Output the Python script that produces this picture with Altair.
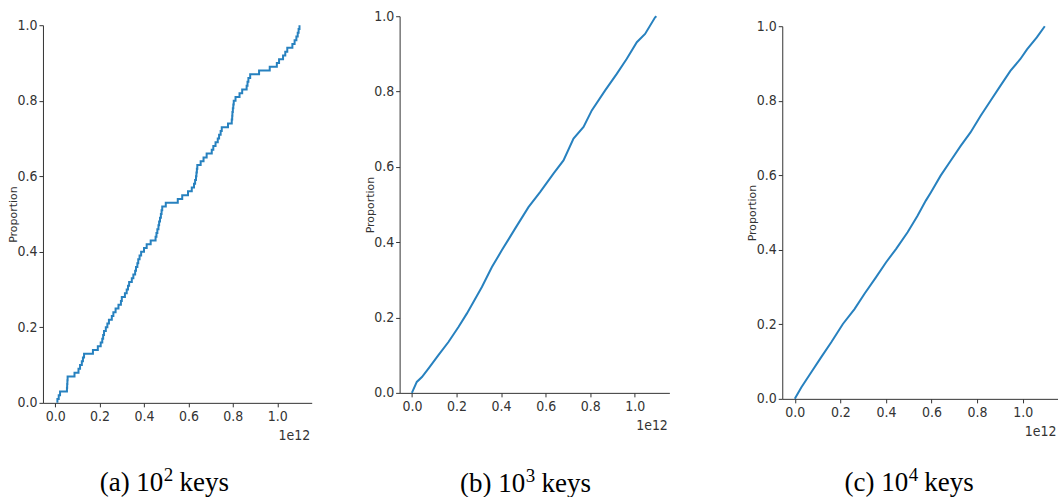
import altair as alt
import pandas as pd

# ---------------- data (x in units of 1e12) ----------------
keys_a = [0.010, 0.016, 0.022, 0.053, 0.054, 0.055, 0.056, 0.087, 0.105, 0.112,
          0.120, 0.125, 0.130, 0.170, 0.192, 0.205, 0.212, 0.216, 0.220, 0.228,
          0.235, 0.242, 0.255, 0.262, 0.272, 0.285, 0.296, 0.300, 0.314, 0.322,
          0.328, 0.333, 0.345, 0.352, 0.360, 0.364, 0.370, 0.374, 0.380, 0.387,
          0.400, 0.412, 0.430, 0.452, 0.456, 0.460, 0.465, 0.468, 0.472, 0.476,
          0.479, 0.482, 0.498, 0.552, 0.572, 0.598, 0.615, 0.625, 0.630, 0.634,
          0.636, 0.638, 0.640, 0.655, 0.668, 0.682, 0.705, 0.712, 0.722, 0.732,
          0.738, 0.745, 0.750, 0.778, 0.795, 0.797, 0.798, 0.800, 0.802, 0.804,
          0.812, 0.830, 0.842, 0.862, 0.866, 0.870, 0.878, 0.918, 0.966, 0.998,
          1.008, 1.026, 1.036, 1.045, 1.068, 1.078, 1.086, 1.092, 1.096, 1.100]

b_x = [0.0, 0.022, 0.045, 0.075, 0.119, 0.164, 0.209, 0.247, 0.314, 0.359, 0.404,
       0.463, 0.523, 0.575, 0.635, 0.680, 0.725, 0.770, 0.807, 0.867, 0.919, 0.964,
       1.009, 1.046, 1.091, 1.097]
b_y = [0.0, 0.029, 0.042, 0.065, 0.100, 0.135, 0.175, 0.211, 0.281, 0.334, 0.379,
       0.436, 0.493, 0.533, 0.582, 0.617, 0.675, 0.706, 0.750, 0.803, 0.847, 0.887,
       0.931, 0.953, 0.997, 1.000]

c_x = [0.0, 0.029, 0.073, 0.116, 0.160, 0.211, 0.262, 0.306, 0.356, 0.400, 0.444,
       0.495, 0.538, 0.575, 0.597, 0.640, 0.684, 0.728, 0.771, 0.815, 0.859, 0.902,
       0.946, 0.990, 1.019, 1.062, 1.097]
c_y = [0.0, 0.031, 0.072, 0.112, 0.152, 0.201, 0.241, 0.282, 0.326, 0.366, 0.402,
       0.447, 0.491, 0.532, 0.554, 0.599, 0.639, 0.679, 0.715, 0.759, 0.800, 0.840,
       0.880, 0.912, 0.938, 0.970, 1.000]

cap_main = ["(a) 10", "(b) 10", "(c) 10"]
cap_sup = ["2", "3", "4"]
cap_tail = "keys"
x_ticks = [0.0, 0.2, 0.4, 0.6, 0.8, 1.0]
y_ticks = [0.0, 0.2, 0.4, 0.6, 0.8, 1.0]
SCALE = 1e12

# ---------------- tables ----------------
n = len(keys_a)
df_a = pd.DataFrame({
    "x": [keys_a[0] * SCALE] + [k * SCALE for k in keys_a],
    "p": [0.0] + [(i + 1) / n for i in range(n)],
    "i": list(range(n + 1)),
})
df_b = pd.DataFrame({"x": [v * SCALE for v in b_x], "p": b_y, "i": list(range(len(b_x)))})
df_c = pd.DataFrame({"x": [v * SCALE for v in c_x], "p": c_y, "i": list(range(len(c_x)))})

TICK_FONT = "Liberation Sans Narrow, DejaVu Sans Condensed, Liberation Sans, sans-serif"
CAP_FONT = "Liberation Serif, Times New Roman, serif"
LINE = "#2781bf"
AX = "#333333"
CAP_SIZE = 27
SUP_SIZE = 19


def caption_layers(idx, center, base_y, df):
    # approximate Times widths (em) to centre the three-part caption
    main_w = (2.416 if idx == 1 else 2.36) * CAP_SIZE
    sup_w = 0.5 * SUP_SIZE
    gap = 0.25 * CAP_SIZE
    tail_w = 1.833 * CAP_SIZE
    total = main_w + sup_w + gap + tail_w
    left = center - total / 2
    split = left + main_w
    t1 = alt.Chart(df).mark_text(font=CAP_FONT, fontSize=CAP_SIZE, align="right",
                                 baseline="alphabetic", color="black", text=cap_main[idx]
                                 ).encode(x=alt.value(split), y=alt.value(base_y))
    t2 = alt.Chart(df).mark_text(font=CAP_FONT, fontSize=SUP_SIZE, align="left",
                                 baseline="alphabetic", color="black", text=cap_sup[idx]
                                 ).encode(x=alt.value(split + 0.5), y=alt.value(base_y - 10))
    t3 = alt.Chart(df).mark_text(font=CAP_FONT, fontSize=CAP_SIZE, align="left",
                                 baseline="alphabetic", color="black", text=cap_tail
                                 ).encode(x=alt.value(split + sup_w + gap), y=alt.value(base_y))
    return [t1, t2, t3]


def panel(df, idx, w, h, step, cap_center, cap_y, right_extra):
    xaxis = alt.Axis(values=[v * SCALE for v in x_ticks],
                     labelExpr="format(datum.value / 1e12, '.1f')",
                     title="1e12", titleX=w - 2, titleY=37, titleAlign="right",
                     titleBaseline="alphabetic", titleFont=TICK_FONT, titleFontSize=14,
                     titleFontWeight="normal", titleColor=AX,
                     labelFont=TICK_FONT, labelFontSize=14, labelColor=AX,
                     labelFlush=False, labelPadding=3,
                     tickSize=4, tickColor=AX, domainColor=AX, grid=False)
    yaxis = alt.Axis(values=y_ticks, format=".1f", title="Proportion",
                     titleFont="DejaVu Sans", titleFontSize=11, titleFontWeight="normal",
                     titleColor=AX, titleX=-26.5, titleY=h / 2, titleAngle=270,
                     titleAlign="center", titleBaseline="alphabetic",
                     labelFont=TICK_FONT, labelFontSize=14, labelColor=AX,
                     labelFlush=False, labelPadding=2,
                     tickSize=4, tickColor=AX, domainColor=AX, grid=False)
    line = alt.Chart(df).mark_line(
        color=LINE, strokeWidth=2,
        interpolate="step-after" if step else "linear",
    ).encode(
        x=alt.X("x:Q", scale=alt.Scale(domain=[-0.055 * SCALE, 1.155 * SCALE], nice=False, zero=False), axis=xaxis),
        y=alt.Y("p:Q", scale=alt.Scale(domain=[0, 1], nice=False), axis=yaxis),
        order=alt.Order("i:Q"),
    )
    cdf = pd.DataFrame({"t": [0]})
    layers = [line] + caption_layers(idx, cap_center, cap_y, cdf)
    if right_extra:
        layers.append(alt.Chart(cdf).mark_rule(color="white", strokeWidth=1).encode(
            x=alt.value(w + 2), x2=alt.value(w + right_extra), y=alt.value(h + 22)))
    return alt.layer(*layers).properties(width=w, height=h)


def spacer(w, h):
    cdf = pd.DataFrame({"t": [0]})
    return alt.Chart(cdf).mark_point(opacity=0).encode(
        x=alt.value(0), y=alt.value(0)).properties(width=w, height=h)


pa = panel(df_a, 0, 269, 378, True, 164.5 - 43, 492 - 26, 0)
pb = panel(df_b, 1, 270, 377, False, 525 - 399, 492 - 16, 24)
pc = panel(df_c, 2, 276, 373, False, 909 - 782, 492 - 27, 0)

col_a = alt.vconcat(spacer(269, 1), pa, spacing=-1)
col_c = alt.vconcat(spacer(276, 1), pc, spacing=0)

chart = alt.hconcat(col_a, pb, col_c, spacing=52).properties(
    padding={"left": 7, "top": 9, "right": 0, "bottom": 0},
    background="white",
).configure_view(stroke=None)

chart.save("out.html", embed_options={"renderer": "svg", "actions": False})
